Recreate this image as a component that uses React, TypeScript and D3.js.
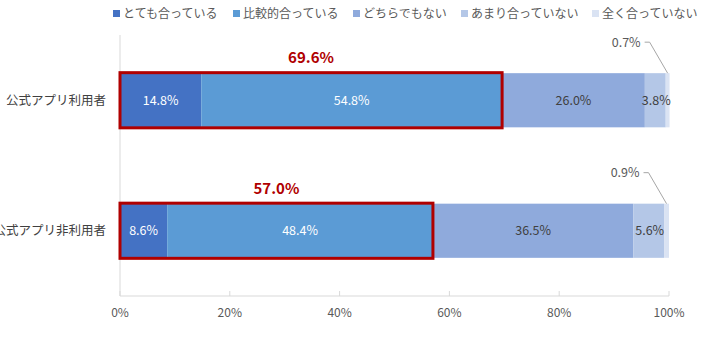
import * as d3 from "d3";

const categories = ["公式アプリ利用者", "公式アプリ非利用者"];
const seriesNames = ["とても合っている", "比較的合っている", "どちらでもない", "あまり合っていない", "全く合っていない"];
const userValues = [14.8, 54.8, 26.0, 3.8, 0.7];
const nonUserValues = [8.6, 48.4, 36.5, 5.6, 0.9];
const highlightTotals = [69.6, 57.0];
const xTicks = [0, 20, 40, 60, 80, 100];

const COLORS = ["#4472C4", "#5B9BD5", "#8FAADC", "#B4C7E7", "#DAE3F3"];
const LABEL_COLORS = ["#ffffff", "#ffffff", "#404040", "#404040", "#404040"];
const RED = "#b00000";
const AXIS = "#d9d9d9";
const TEXT = "#595959";
const FONT = "'Noto Sans CJK JP', 'Noto Sans', sans-serif";

const W = 702;
const H = 338;
const margin = { top: 35, right: 33, bottom: 42, left: 120 };

export default function App() {
  const innerW = W - margin.left - margin.right;
  const innerH = H - margin.top - margin.bottom;
  const rows = [userValues, nonUserValues];

  const x = d3.scaleLinear().domain([0, 100]).range([0, innerW]);
  const y = d3
    .scaleBand()
    .domain(categories)
    .range([0, innerH])
    .paddingInner(0.585)
    .paddingOuter(0.2925);

  const stacked = rows.map((vals) => {
    let acc = 0;
    return vals.map((v) => {
      const s = acc;
      acc += v;
      return { start: s, end: acc, v };
    });
  });

  const legendX = [113, 233, 353, 461, 592];

  return (
    <svg width={W} height={H} style={{ position: "absolute", left: 0, top: 0, fontFamily: FONT }}>
      <rect width={W} height={H} fill="#fff" />
      {/* legend */}
      {seriesNames.map((n, i) => (
        <g key={n} transform={`translate(${legendX[i]},14)`}>
          <rect x={0} y={-4} width={7} height={7} fill={COLORS[i]} />
          <text x={10} y={0} dy="0.35em" fontSize={12} fill={TEXT}>
            {n}
          </text>
        </g>
      ))}
      <g transform={`translate(${margin.left},${margin.top})`}>
        {/* axes */}
        <line x1={0} x2={0} y1={0} y2={innerH} stroke={AXIS} />
        <line x1={0} x2={innerW} y1={innerH} y2={innerH} stroke={AXIS} />
        {xTicks.map((t) => (
          <g key={t}>
            <line x1={x(t)} x2={x(t)} y1={innerH} y2={innerH - 5} stroke={AXIS} />
            <text x={x(t)} y={innerH + 21} textAnchor="middle" fontSize={12} fill={TEXT}>
              {t}%
            </text>
          </g>
        ))}
        {categories.map((c, ri) => {
          const by = y(c)!;
          const bh = y.bandwidth();
          const segs = stacked[ri];
          const tot = highlightTotals[ri];
          const last = segs[segs.length - 1];
          const lx = x(last.start + last.v / 2);
          return (
            <g key={c}>
              <text x={-14} y={by + bh / 2} dy="0.35em" textAnchor="end" fontSize={12.5} fill="#404040">
                {c}
              </text>
              {segs.map((s, i) => (
                <rect key={i} x={x(s.start)} y={by} width={x(s.end) - x(s.start)} height={bh} fill={COLORS[i]} />
              ))}
              {segs.slice(0, 4).map((s, i) => (
                <text
                  key={i}
                  x={i === 3 ? x(s.start + s.v / 2) + 1 : x(s.start + s.v / 2)}
                  y={by + bh / 2}
                  dy="0.35em"
                  textAnchor="middle"
                  fontSize={12.5}
                  fill={LABEL_COLORS[i]}
                >
                  {s.v.toFixed(1)}%
                </text>
              ))}
              {/* leader label for smallest segment */}
              <polyline
                points={`${lx - 23},${by - 31} ${lx - 18},${by - 31} ${lx},${by}`}
                fill="none"
                stroke="#a6a6a6"
                strokeWidth={1}
              />
              <text x={lx - 27} y={by - 31} dy="0.35em" textAnchor="end" fontSize={12.5} fill={TEXT}>
                {last.v.toFixed(1)}%
              </text>
              {/* highlight box */}
              <rect
                x={x(0)}
                y={by - 0.5}
                width={x(tot)}
                height={bh + 1}
                fill="none"
                stroke={RED}
                strokeWidth={3}
              />
              <text
                x={x(tot / 2)}
                y={by - 10}
                textAnchor="middle"
                fontSize={15}
                fontWeight="bold"
                fill={RED}
              >
                {tot.toFixed(1)}%
              </text>
            </g>
          );
        })}
      </g>
    </svg>
  );
}
